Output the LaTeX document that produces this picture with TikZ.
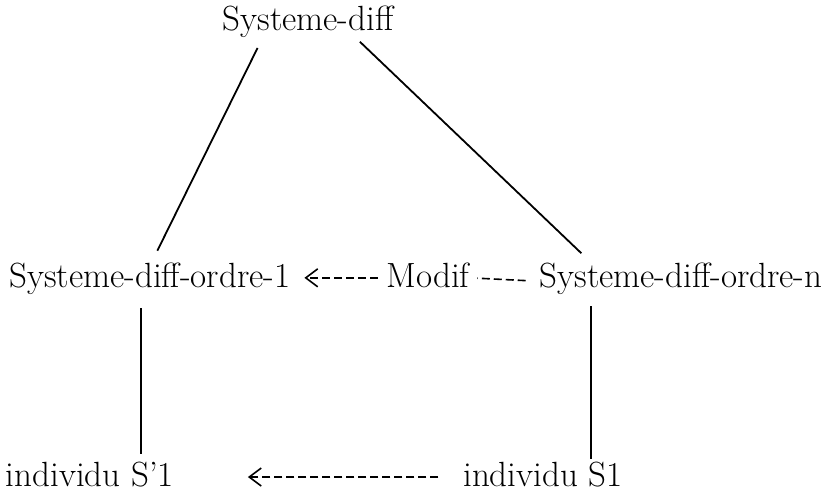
\documentclass[tikz,border=0pt]{standalone}
\usepackage{tikz}
\usetikzlibrary{arrows.meta}

\begin{document}
\begin{tikzpicture}[x=0.5pt, y=-0.5pt, line width=0.9pt,
  lbl/.style={inner sep=0pt, anchor=base, font=\fontsize{17.5}{21}\selectfont},
  dashln/.style={dash pattern=on 4pt off 2pt, line width=0.8pt},
  dasharr/.style={dashln, -{Straight Barb[length=6pt, width=9pt, line width=0.8pt]}}]
  \useasboundingbox (0,0) rectangle (829,497);
  % nodes
  \node[lbl] (sd)    at (308,31)  {Systeme-diff};
  \node[lbl] (sd1)   at (150,287) {Systeme-diff-ordre-1};
  \node[lbl] (modif) at (428,287) {Modif};
  \node[lbl] (sdn)   at (681,287) {Systeme-diff-ordre-n};
  \node[lbl] (ind1p) at (90,486)  {individu S'1};
  \node[lbl] (ind1)  at (543,486) {individu S1};
  % tree
  \draw[shorten <=5pt, shorten >=6pt] ([xshift=-23pt]sd.south) -- ([xshift=1pt]sd1.north);
  \draw[shorten <=2pt, shorten >=6pt] ([xshift=24.5pt]sd.south) -- ([xshift=-45.5pt]sdn.north);
  \draw[shorten <=6.5pt, shorten >=3.5pt] ([xshift=-4.5pt]sd1.south) -- ([xshift=-4.5pt]sd1.south |- ind1p.north);
  \draw[shorten <=5.5pt, shorten >=1pt] ([xshift=-45pt]sdn.south) -- ([xshift=-45pt]sdn.south |- ind1.north);
  % dashed links
  \draw[dasharr, shorten <=4pt, shorten >=6.5pt] ([yshift=-1.5pt]modif.west) -- ([yshift=-1.5pt]modif.west -| sd1.east);
  \draw[dashln, shorten <=6.5pt, shorten >=3.5pt] ([yshift=-1.5pt]sdn.west) -- ([yshift=-1.5pt]modif.east);
  \draw[dasharr, shorten <=12pt, shorten >=36.5pt] ([yshift=-1.5pt]ind1.west) -- ([yshift=-1.5pt]ind1.west -| ind1p.east);
\end{tikzpicture}
\end{document}
